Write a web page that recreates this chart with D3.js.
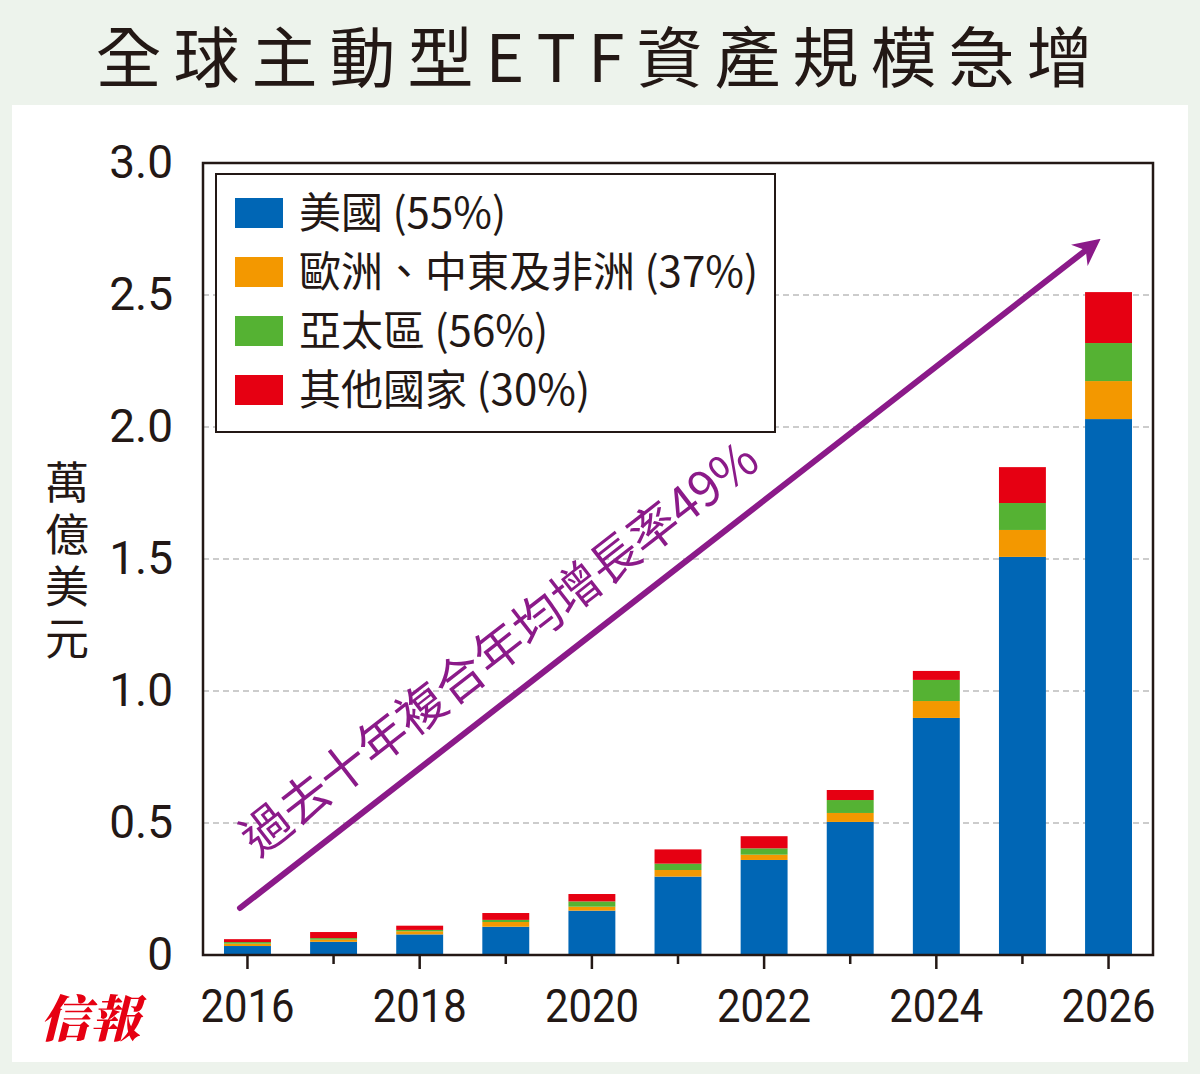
<!DOCTYPE html>
<html><head><meta charset="utf-8">
<script src="https://cdn.jsdelivr.net/npm/d3@7"></script>
<style>body{margin:0;background:#edf3ec;}svg{display:block;}</style>
</head><body>
<svg id="c" width="1200" height="1074"></svg>
<script>
const years = [2016, 2017, 2018, 2019, 2020, 2021, 2022, 2023, 2024, 2025, 2026];
const usa = [0.034, 0.05, 0.078, 0.107, 0.168, 0.297, 0.36, 0.504, 0.898, 1.508, 2.03];
const europe = [0.009, 0.008, 0.012, 0.018, 0.015, 0.025, 0.02, 0.034, 0.064, 0.102, 0.144];
const asia = [0.006, 0.006, 0.005, 0.008, 0.02, 0.024, 0.024, 0.049, 0.08, 0.102, 0.144];
const others = [0.011, 0.023, 0.016, 0.026, 0.028, 0.054, 0.046, 0.038, 0.034, 0.136, 0.193];
const series = [
  { key: "usa", name: "美國", pct: "(55%)", color: "#0066b5", values: usa },
  { key: "europe", name: "歐洲、中東及非洲", pct: "(37%)", color: "#f39800", values: europe },
  { key: "asia", name: "亞太區", pct: "(56%)", color: "#55b233", values: asia },
  { key: "others", name: "其他國家", pct: "(30%)", color: "#e60012", values: others },
];
const yTicks = [0, 0.5, 1.0, 1.5, 2.0, 2.5, 3.0];
const yTickLabels = ["0", "0.5", "1.0", "1.5", "2.0", "2.5", "3.0"];

const svg = d3.select("#c");
const font = "'Noto Sans CJK TC', 'Noto Sans', sans-serif";
svg.append("rect").attr("x", 12).attr("y", 105).attr("width", 1176).attr("height", 957).attr("fill", "#fff");
svg.append("text").attr("x", 600).attr("y", 82).attr("text-anchor", "middle")
  .attr("font-family", font).attr("font-size", 66).attr("font-weight", 400).attr("fill", "#231815")
  .attr("letter-spacing", 12).text("全球主動型ETF資產規模急增");

const L = 203, R = 1153, T = 163, B = 955;
const x = d3.scaleBand().domain(years).range([L + 21, R - 21]).paddingInner(0.455).paddingOuter(0);
const y = d3.scaleLinear().domain([0, 3]).range([B, T]);

// grid
svg.append("g").selectAll("line").data(yTicks.slice(1, -1)).join("line")
  .attr("x1", L).attr("x2", R).attr("y1", d => y(d)).attr("y2", d => y(d))
  .attr("stroke", "#999").attr("stroke-dasharray", "6,4").attr("stroke-width", 1.2);

// bars
const table = years.map((yr, i) => { const o = { year: yr }; series.forEach(s => o[s.key] = s.values[i]); return o; });
const stack = d3.stack().keys(series.map(s => s.key))(table);
svg.append("g").selectAll("g").data(stack).join("g")
  .attr("fill", (d, i) => series[i].color)
  .selectAll("rect").data(d => d).join("rect")
  .attr("x", d => x(d.data.year)).attr("width", x.bandwidth())
  .attr("y", d => y(d[1])).attr("height", d => y(d[0]) - y(d[1]));

// frame
svg.append("rect").attr("x", L).attr("y", T).attr("width", R - L).attr("height", B - T)
  .attr("fill", "none").attr("stroke", "#231815").attr("stroke-width", 2.5);

// y axis
const ya = svg.append("g").attr("transform", `translate(${L},0)`)
  .call(d3.axisLeft(y).tickValues(yTicks).tickSize(0).tickPadding(14).tickFormat((d, i) => yTickLabels[i]));
ya.select(".domain").remove();
ya.selectAll("text").attr("font-family", "'Roboto','Liberation Sans',sans-serif")
  .attr("font-size", 46).attr("fill", "#231815").attr("x", -30);

// x axis
const xa = svg.append("g").attr("transform", `translate(0,${B})`)
  .call(d3.axisBottom(x).tickSize(0).tickFormat(d => d % 2 === 0 ? d : ""));
xa.select(".domain").remove();
xa.selectAll(".tick line").attr("y2", d => d % 2 === 0 ? 14 : 9).attr("stroke", "#231815").attr("stroke-width", 2.5);
xa.selectAll("text").attr("font-family", "'Roboto','Liberation Sans',sans-serif")
  .attr("font-size", 46).attr("fill", "#231815").attr("textLength", 94).attr("lengthAdjust", "spacingAndGlyphs")
  .attr("dy", "0.35em").attr("y", 1006 - B);

// y label
svg.append("text").attr("x", 67).attr("y", 460)
  .attr("writing-mode", "vertical-rl").attr("glyph-orientation-vertical", 0)
  .attr("font-family", font).attr("font-size", 44).attr("letter-spacing", 8).attr("fill", "#231815").text("萬億美元");

// legend
svg.append("rect").attr("x", 216).attr("y", 174).attr("width", 559).attr("height", 258)
  .attr("fill", "#fff").attr("stroke", "#231815").attr("stroke-width", 2);
const lg = svg.append("g").selectAll("g").data(series).join("g")
  .attr("transform", (d, i) => `translate(235,${214 + i * 59})`);
lg.append("rect").attr("y", -16).attr("width", 48).attr("height", 30).attr("fill", d => d.color);
lg.append("text").attr("x", 64).attr("y", 14).attr("font-family", font).attr("font-size", 42).attr("fill", "#231815")
  .text(d => d.name + " " + d.pct);

// arrow
const defs = svg.append("defs");
defs.append("marker").attr("id", "ah").attr("viewBox", "0 0 10 10").attr("refX", 5).attr("refY", 5)
  .attr("markerWidth", 4.5).attr("markerHeight", 4.5).attr("orient", "auto")
  .append("path").attr("d", "M0,0 L10,5 L0,10 L3,5 Z").attr("fill", "#8b1a89");
svg.append("line").attr("x1", 240).attr("y1", 908).attr("x2", 1090).attr("y2", 247)
  .attr("stroke", "#8b1a89").attr("stroke-width", 6).attr("stroke-linecap", "round").attr("marker-end", "url(#ah)");
const ang = Math.atan2(247 - 908, 1090 - 240) * 180 / Math.PI;
svg.append("text").attr("transform", `translate(510,662) rotate(${ang})`).attr("text-anchor", "middle")
  .attr("font-family", font).attr("font-size", 49).attr("fill", "#8b1a89").text("過去十年複合年均增長率49%");

// logo
svg.append("text").attr("x", 90).attr("y", 1037).attr("text-anchor", "middle")
  .attr("font-family", "'Noto Serif CJK TC','Noto Sans CJK TC',serif").attr("font-weight", 900)
  .attr("font-size", 50).attr("fill", "#e60012").attr("font-style", "italic").text("信報");
</script>
</body></html>
